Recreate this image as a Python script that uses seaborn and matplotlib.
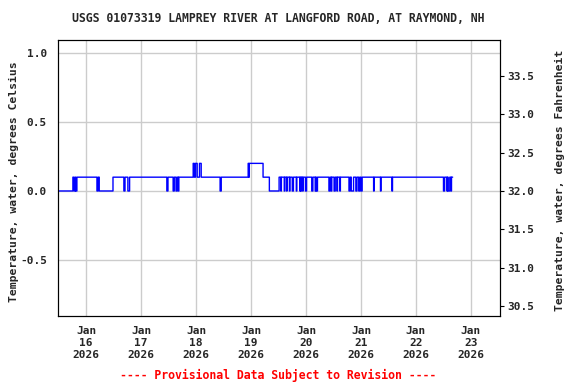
import matplotlib
matplotlib.use("Agg")
import matplotlib.pyplot as plt
import matplotlib.dates as mdates
import seaborn as sns
import pandas as pd

# change points of the 15-minute record (time the value starts) and the value
change_times = [
    "2026-01-15 11:45", "2026-01-15 18:15", "2026-01-15 18:45", "2026-01-15 19:15",
    "2026-01-15 19:30", "2026-01-15 20:00", "2026-01-16 04:45", "2026-01-16 05:15",
    "2026-01-16 05:45", "2026-01-16 11:45", "2026-01-16 16:30", "2026-01-16 17:00",
    "2026-01-16 18:15", "2026-01-16 19:00", "2026-01-17 11:15", "2026-01-17 11:45",
    "2026-01-17 14:00", "2026-01-17 14:30", "2026-01-17 15:15", "2026-01-17 15:45",
    "2026-01-17 16:15", "2026-01-17 16:30", "2026-01-17 22:45", "2026-01-17 23:15",
    "2026-01-17 23:45", "2026-01-18 00:30", "2026-01-18 01:30", "2026-01-18 02:15",
    "2026-01-18 10:30", "2026-01-18 11:00", "2026-01-18 22:45", "2026-01-18 23:00",
    "2026-01-18 23:15", "2026-01-19 05:15", "2026-01-19 08:00", "2026-01-19 12:15",
    "2026-01-19 13:00", "2026-01-19 13:15", "2026-01-19 14:30", "2026-01-19 14:45",
    "2026-01-19 15:30", "2026-01-19 15:45", "2026-01-19 16:45", "2026-01-19 17:00",
    "2026-01-19 18:00", "2026-01-19 18:30", "2026-01-19 19:45", "2026-01-19 20:00",
    "2026-01-19 21:15", "2026-01-19 21:30", "2026-01-19 21:45", "2026-01-19 22:00",
    "2026-01-19 22:30", "2026-01-19 22:45", "2026-01-19 23:45", "2026-01-20 00:15",
    "2026-01-20 02:30", "2026-01-20 03:00", "2026-01-20 04:00", "2026-01-20 04:15",
    "2026-01-20 04:30", "2026-01-20 05:00", "2026-01-20 10:00", "2026-01-20 10:30",
    "2026-01-20 11:00", "2026-01-20 11:15", "2026-01-20 12:15", "2026-01-20 12:45",
    "2026-01-20 13:30", "2026-01-20 13:45", "2026-01-20 14:45", "2026-01-20 15:00",
    "2026-01-20 18:45", "2026-01-20 19:15", "2026-01-20 19:45", "2026-01-20 20:45",
    "2026-01-20 21:45", "2026-01-20 22:15", "2026-01-20 23:00", "2026-01-20 23:30",
    "2026-01-21 00:00", "2026-01-21 00:30", "2026-01-21 05:30", "2026-01-21 05:45",
    "2026-01-21 08:30", "2026-01-21 08:45", "2026-01-21 13:30", "2026-01-21 13:45",
    "2026-01-22 12:00", "2026-01-22 12:30", "2026-01-22 13:30", "2026-01-22 13:45",
    "2026-01-22 14:00", "2026-01-22 14:45", "2026-01-22 15:15", "2026-01-22 15:30",
]
change_values = [
    0.0, 0.1, 0.0, 0.1, 0.0, 0.1, 0.0, 0.1,
    0.0, 0.1, 0.0, 0.1, 0.0, 0.1, 0.0, 0.1,
    0.0, 0.1, 0.0, 0.1, 0.0, 0.1, 0.2, 0.1,
    0.2, 0.1, 0.2, 0.1, 0.0, 0.1, 0.2, 0.1,
    0.2, 0.1, 0.0, 0.1, 0.0, 0.1, 0.0, 0.1,
    0.0, 0.1, 0.0, 0.1, 0.0, 0.1, 0.0, 0.1,
    0.0, 0.1, 0.0, 0.1, 0.0, 0.1, 0.0, 0.1,
    0.0, 0.1, 0.0, 0.1, 0.0, 0.1, 0.0, 0.1,
    0.0, 0.1, 0.0, 0.1, 0.0, 0.1, 0.0, 0.1,
    0.0, 0.1, 0.0, 0.1, 0.0, 0.1, 0.0, 0.1,
    0.0, 0.1, 0.0, 0.1, 0.0, 0.1, 0.0, 0.1,
    0.0, 0.1, 0.0, 0.1, 0.0, 0.1, 0.0, 0.1,
]
last_time = "2026-01-22 16:00"

day_ticks = ["2026-01-16", "2026-01-17", "2026-01-18", "2026-01-19",
             "2026-01-20", "2026-01-21", "2026-01-22", "2026-01-23"]
c_ticks = [-0.5, 0.0, 0.5, 1.0]
f_ticks = [30.5, 31.0, 31.5, 32.0, 32.5, 33.0, 33.5]

title = "USGS 01073319 LAMPREY RIVER AT LANGFORD ROAD, AT RAYMOND, NH"
note = "---- Provisional Data Subject to Revision ----"

# fill the record out to 15-minute steps
steps = pd.Series(change_values, index=pd.to_datetime(change_times))
idx = pd.date_range(change_times[0], last_time, freq="15min")
df = pd.DataFrame({"time": idx, "temp": steps.reindex(idx, method="ffill").values})

sns.set_theme(style="white")
plt.rcParams["font.family"] = "DejaVu Sans Mono"
plt.rcParams["font.weight"] = "bold"

fig = plt.figure(figsize=(5.76, 3.84), dpi=100)
ax = fig.add_axes([58 / 576, 1 - 316 / 384, 442 / 576, 276 / 384])

sns.lineplot(data=df, x="time", y="temp", ax=ax, color="#0000ff",
             linewidth=1, drawstyle="steps-post", zorder=3)

ax.set_xlim(pd.Timestamp("2026-01-15 11:45"), pd.Timestamp("2026-01-23 12:40"))
ax.set_ylim(-0.906, 1.094)
ax.set_xticks(pd.to_datetime(day_ticks))
ax.xaxis.set_major_formatter(mdates.DateFormatter("%b\n%d\n%Y"))
ax.set_yticks(c_ticks)
ax.set_yticklabels([f"{v:.1f}" for v in c_ticks])
ax.grid(True, color="#cccccc", linewidth=1)
ax.tick_params(axis="x", length=0, pad=7, labelsize=8)
ax.tick_params(axis="y", length=0, pad=8, labelsize=8)
for lab in ax.get_xticklabels():
    lab.set_fontweight("bold")
    lab.set_linespacing(1.25)
for lab in ax.get_yticklabels():
    lab.set_fontweight("bold")
ax.set_xlabel("")
ax.set_ylabel("Temperature, water, degrees Celsius", fontsize=8.2,
              fontweight="bold", va="center")
ax.yaxis.set_label_coords(-0.1, 0.485)
for s in ax.spines.values():
    s.set_color("black")
    s.set_linewidth(0.8)

ax2 = ax.twinx()
lo, hi = ax.get_ylim()
ax2.set_ylim(lo * 1.8 + 32, hi * 1.8 + 32)
ax2.set_yticks(f_ticks)
ax2.set_yticklabels([f"{v:.1f}" for v in f_ticks], fontweight="bold", fontsize=8)
ax2.tick_params(axis="y", length=3, width=0.8, color="black", direction="out", pad=2)
ax2.set_ylabel("Temperature, water, degrees Fahrenheit", fontsize=8.2,
               fontweight="bold", va="center", rotation=90)
ax2.yaxis.set_label_coords(1.136, 0.49)
ax2.grid(False)
for s in ax2.spines.values():
    s.set_color("black")
    s.set_linewidth(0.8)

fig.text(278 / 576, 1 - 19 / 384, title, ha="center", va="center",
         fontsize=8.3, fontweight="bold")
fig.text(278 / 576, 1 - 375 / 384, note, ha="center", va="center",
         fontsize=8.3, fontweight="bold", color="red")

fig.savefig("out.png", dpi=100)
